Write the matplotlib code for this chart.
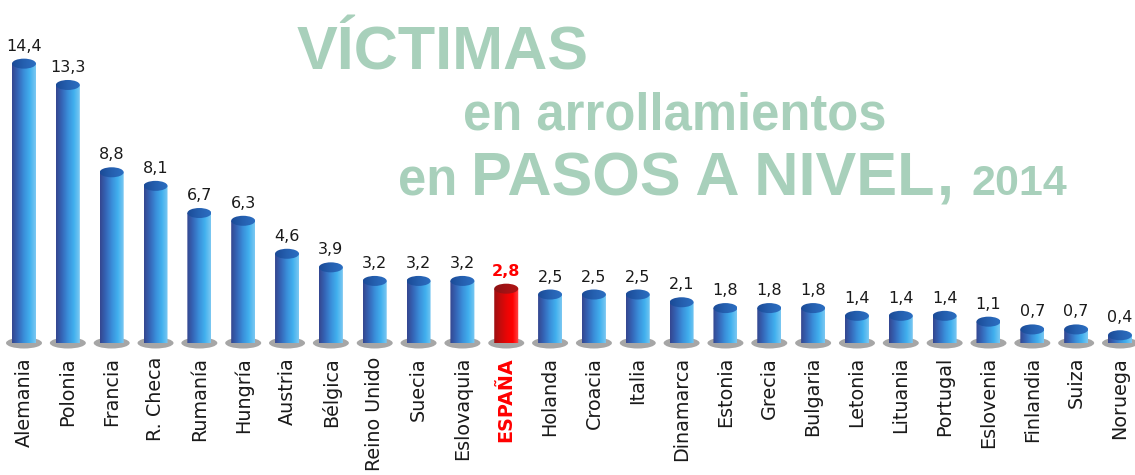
import numpy as np
import matplotlib
matplotlib.use("Agg")
import matplotlib.pyplot as plt
from matplotlib.patches import Ellipse, PathPatch
from matplotlib.path import Path
from matplotlib.colors import LinearSegmentedColormap

countries = ["Alemania", "Polonia", "Francia", "R. Checa", "Rumanía", "Hungría",
             "Austria", "Bélgica", "Reino Unido", "Suecia", "Eslovaquia", "ESPAÑA",
             "Holanda", "Croacia", "Italia", "Dinamarca", "Estonia", "Grecia",
             "Bulgaria", "Letonia", "Lituania", "Portugal", "Eslovenia", "Finlandia",
             "Suiza", "Noruega"]
values = [14.4, 13.3, 8.8, 8.1, 6.7, 6.3, 4.6, 3.9, 3.2, 3.2, 3.2, 2.8,
          2.5, 2.5, 2.5, 2.1, 1.8, 1.8, 1.8, 1.4, 1.4, 1.4, 1.1, 0.7, 0.7, 0.4]
value_labels = ["14,4", "13,3", "8,8", "8,1", "6,7", "6,3", "4,6", "3,9", "3,2", "3,2",
                "3,2", "2,8", "2,5", "2,5", "2,5", "2,1", "1,8", "1,8", "1,8", "1,4",
                "1,4", "1,4", "1,1", "0,7", "0,7", "0,4"]
highlight = "ESPAÑA"

W, H, DPI = 1135, 475, 100
fig = plt.figure(figsize=(W / DPI, H / DPI), dpi=DPI)
fig.patch.set_facecolor("white")

spacing_px = 43.84
first_px = 24
base_px = 343          # baseline from top
unit_px = 19.4         # pixels per unit value
n = len(countries)

ax_bottom_px = H - base_px
ax = fig.add_axes([0, ax_bottom_px / H, 1, base_px / H])
ax.set_xlim(-first_px / spacing_px, (W - first_px) / spacing_px)
ax.set_ylim(0, base_px / unit_px)
ax.axis("off")

bar_w = 24 / spacing_px
ell_h = 10 / unit_px
shadow_w = 36 / spacing_px
shadow_h = 11 / unit_px

blue_body = LinearSegmentedColormap.from_list(
    "bb", ["#34468f", "#3566b8", "#3a8fda", "#41b0ee", "#7cc9f2"])
blue_top = LinearSegmentedColormap.from_list("bt", ["#1b4a96", "#2560b0", "#2c6fc2"])
red_body = LinearSegmentedColormap.from_list(
    "rb", ["#9e0f12", "#c40c0c", "#e80606", "#ff0000", "#ff4a4a"])
red_top = LinearSegmentedColormap.from_list("rt", ["#8c1214", "#a31214", "#b01515"])

grad = np.linspace(0, 1, 256).reshape(1, -1)

for i, (c, v) in enumerate(zip(countries, values)):
    x = i
    is_hl = c == highlight
    cm_body = red_body if is_hl else blue_body
    cm_top = red_top if is_hl else blue_top
    # shadow
    sh = Ellipse((x, 0), shadow_w, shadow_h, facecolor="#a6a6a6", edgecolor="none",
                 zorder=1, clip_on=False)
    ax.add_patch(sh)
    # body path: rectangle + lower half ellipse
    t = np.linspace(np.pi, 2 * np.pi, 60)
    bx = x + (bar_w / 2) * np.cos(t)
    by = (ell_h / 2) * np.sin(t)
    verts = [(x - bar_w / 2, v)] + list(zip(bx, by)) + [(x + bar_w / 2, v), (x - bar_w / 2, v)]
    codes = [Path.MOVETO] + [Path.LINETO] * (len(verts) - 2) + [Path.CLOSEPOLY]
    body = PathPatch(Path(verts, codes), facecolor="none", edgecolor="none", zorder=2)
    ax.add_patch(body)
    im = ax.imshow(grad, cmap=cm_body, aspect="auto", zorder=2,
                   extent=(x - bar_w / 2, x + bar_w / 2, -ell_h, v), interpolation="bilinear")
    im.set_clip_path(body)
    # top ellipse
    top = Ellipse((x, v), bar_w, ell_h, facecolor="none", edgecolor="none", zorder=3)
    ax.add_patch(top)
    im2 = ax.imshow(grad, cmap=cm_top, aspect="auto", zorder=3,
                    extent=(x - bar_w / 2, x + bar_w / 2, v - ell_h, v + ell_h),
                    interpolation="bilinear")
    im2.set_clip_path(top)
    # value label
    ax.annotate(value_labels[i], (x, v), xytext=(0, 10), textcoords="offset pixels",
                ha="center", va="bottom", fontsize=11.5,
                family="DejaVu Sans",
                color="#ff0000" if is_hl else "#1a1a1a",
                fontweight="bold" if is_hl else "normal", clip_on=False)
    # category label
    ax.annotate(c, (x, 0), xytext=(0, -14), textcoords="offset pixels",
                ha="center", va="top", rotation=90, fontsize=13.8,
                family="DejaVu Sans",
                color="#ff0000" if is_hl else "#1a1a1a",
                fontweight="bold" if is_hl else "normal", clip_on=False)

# Title
tcol = "#a8d0bb"
tfam = "Liberation Sans"
fig.text(297 / W, 1 - 70 / H, "VÍCTIMAS", fontsize=44, fontweight="bold",
         color=tcol, family=tfam, ha="left", va="baseline")
fig.text(463 / W, 1 - 130 / H, "en arrollamientos", fontsize=36.5, fontweight="bold",
         color=tcol, family=tfam, ha="left", va="baseline")

renderer = fig.canvas.get_renderer()
pieces = [("en ", 36.5, 0), ("PASOS A NIVEL", 44, 2), (",", 44, 18), ("2014", 31, 0)]
xpos = 398
for txt, fs, gap in pieces:
    tt = fig.text(xpos / W, 1 - 195 / H, txt, fontsize=fs, fontweight="bold",
                  color=tcol, family=tfam, ha="left", va="baseline")
    bb = tt.get_window_extent(renderer)
    xpos = bb.x1 + gap

fig.savefig("out.png", dpi=DPI, facecolor="white")
